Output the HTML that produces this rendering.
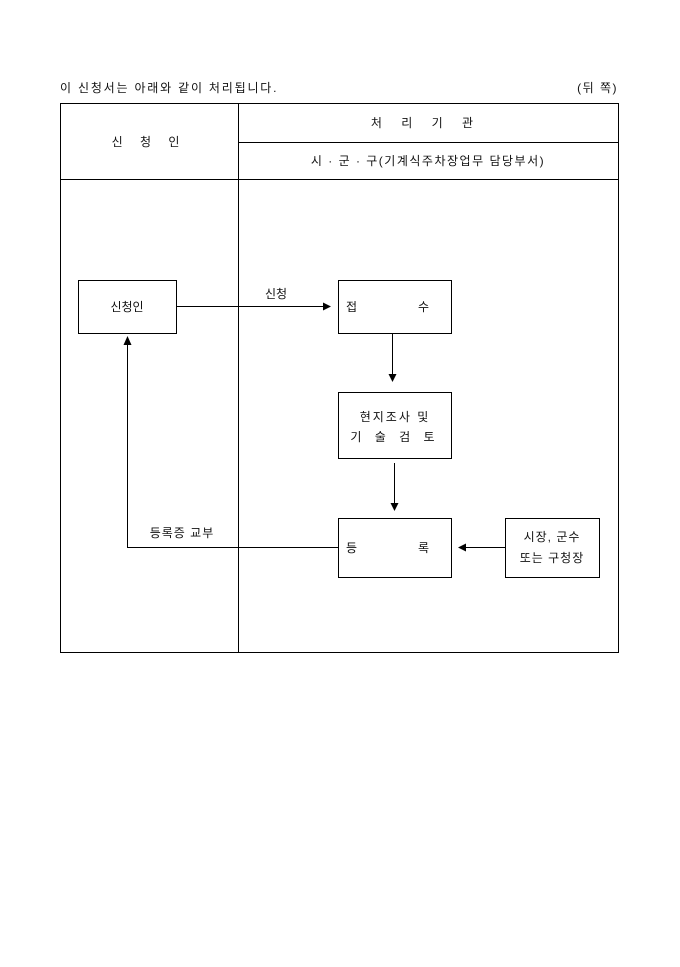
<!DOCTYPE html>
<html><head><meta charset="utf-8"><style>
body{margin:0;background:#fff;}
svg text{font-family:"Liberation Sans","Noto Sans CJK KR","NanumGothic",sans-serif;font-size:12px;fill:#111;}
</style></head><body>
<svg width="680" height="962" xmlns="http://www.w3.org/2000/svg">
<defs><marker id="a" markerWidth="8" markerHeight="8" refX="7" refY="4" orient="auto" markerUnits="userSpaceOnUse"><path d="M0,0 L8,4 L0,8 z" fill="#000"/></marker></defs>
<text x="60" y="92" letter-spacing="1.8">이 신청서는 아래와 같이 처리됩니다.</text>
<text x="618" y="92" text-anchor="end" letter-spacing="1.5">(뒤 쪽)</text>
<g stroke="#000" stroke-width="1" fill="none">
<rect x="60.5" y="103.5" width="558" height="549"/>
<line x1="238.5" y1="103" x2="238.5" y2="652"/>
<line x1="238" y1="142.5" x2="618" y2="142.5"/>
<line x1="60" y1="179.5" x2="618" y2="179.5"/>
<rect x="78.5" y="280.5" width="98" height="53"/>
<rect x="338.5" y="280.5" width="113" height="53"/>
<rect x="338.5" y="392.5" width="113" height="66"/>
<rect x="338.5" y="518.5" width="113" height="59"/>
<rect x="505.5" y="518.5" width="94" height="59"/>
<line x1="176" y1="306.5" x2="330" y2="306.5" marker-end="url(#a)"/>
<line x1="392.5" y1="333" x2="392.5" y2="381" marker-end="url(#a)"/>
<line x1="394.5" y1="463" x2="394.5" y2="510" marker-end="url(#a)"/>
<line x1="505" y1="547.5" x2="459" y2="547.5" marker-end="url(#a)"/>
<polyline points="338,547.5 127.5,547.5 127.5,345"/>
</g>
<path d="M123.5,345 L127.5,336 L131.5,345 z" fill="#000"/>
<text x="149" y="146" text-anchor="middle" letter-spacing="7">신 청 인</text>
<text x="426" y="127" text-anchor="middle" letter-spacing="8">처 리 기 관</text>
<text x="428" y="165" text-anchor="middle" letter-spacing="1.5">시 · 군 · 구(기계식주차장업무 담당부서)</text>
<text x="127" y="311" text-anchor="middle">신청인</text>
<text x="276" y="298" text-anchor="middle">신청</text>
<text x="346" y="311">접</text><text x="418" y="311">수</text>
<text x="395" y="421" text-anchor="middle" letter-spacing="2">현지조사 및</text>
<text x="395" y="441" text-anchor="middle" letter-spacing="5">기 술 검 토</text>
<text x="346" y="552">등</text><text x="418" y="552">록</text>
<text x="552" y="541" text-anchor="middle" letter-spacing="1">시장, 군수</text>
<text x="552" y="562" text-anchor="middle" letter-spacing="1">또는 구청장</text>
<text x="182" y="537" text-anchor="middle" letter-spacing="1">등록증 교부</text>
</svg>
</body></html>
